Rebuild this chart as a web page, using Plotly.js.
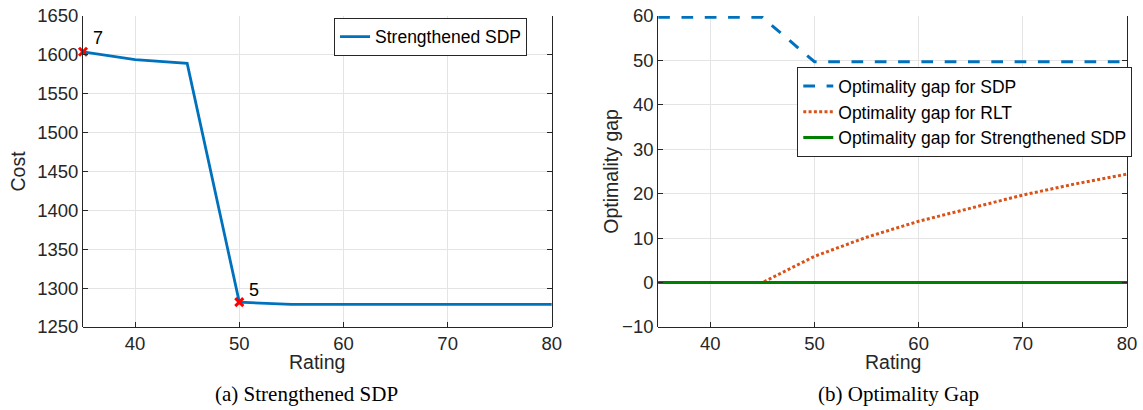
<!DOCTYPE html>
<html>
<head>
<meta charset="utf-8">
<script src="https://cdn.plot.ly/plotly-3.0.1.min.js"></script>
<style>
  html, body { margin: 0; padding: 0; background: #ffffff; }
  #chart { width: 1143px; height: 410px; }
</style>
</head>
<body>
<div id="chart"></div>
<script>
// Rating sweep shared by both panels
const rating = [35, 40, 45, 50, 55, 60, 65, 70, 75, 80];

// (a) cost of the strengthened SDP relaxation
const cost = [1604, 1594, 1589, 1282, 1279, 1279, 1279, 1279, 1279, 1279];

// points flagged with a count label
const flaggedRating = [35, 50];
const flaggedCost = [1604, 1282];
const flaggedLabels = ['7', '5'];

// (b) optimality gaps
const gapSDP = [59.7, 59.7, 59.7, 49.7, 49.7, 49.7, 49.7, 49.7, 49.7, 49.7];
const gapRLT = [0, 0, 0, 5.9, 10.2, 13.8, 16.8, 19.7, 22.2, 24.4];
const gapStrengthened = [0, 0, 0, 0, 0, 0, 0, 0, 0, 0];

const captions = ['(a) Strengthened SDP', '(b) Optimality Gap'];

// page geometry (pixels)
const W = 1143, H = 410;
const M = { l: 82.8, r: 14.7, t: 16, b: 82.5 };
const PW = W - M.l - M.r, PH = H - M.t - M.b;
const px = x => (x - M.l) / PW;          // page x -> paper x
const py = y => (H - M.b - y) / PH;      // page y -> paper y

const INK = '#262626';
const SANS = 'Liberation Sans, Arial, Helvetica, sans-serif';
const SERIF = 'Liberation Serif, Times New Roman, serif';

const traces = [
  {
    x: rating, y: cost, xaxis: 'x', yaxis: 'y',
    type: 'scatter', mode: 'lines', name: 'Strengthened SDP',
    line: { color: '#0072BD', width: 2.8 },
    legend: 'legend', cliponaxis: false
  },
  {
    x: flaggedRating, y: flaggedCost, xaxis: 'x', yaxis: 'y',
    type: 'scatter', mode: 'markers', showlegend: false,
    marker: { symbol: 'x-thin', size: 8, color: '#ff0000', line: { color: '#ff0000', width: 3 } },
    cliponaxis: false, hoverinfo: 'skip'
  },
  {
    x: rating, y: gapSDP, xaxis: 'x2', yaxis: 'y2',
    type: 'scatter', mode: 'lines', name: 'Optimality gap for SDP',
    line: { color: '#0072BD', width: 3, dash: '11.7px,11.6px' },
    legend: 'legend2', cliponaxis: false
  },
  {
    x: rating, y: gapRLT, xaxis: 'x2', yaxis: 'y2',
    type: 'scatter', mode: 'lines', name: 'Optimality gap for RLT',
    line: { color: '#D95319', width: 3, dash: '3px,2.3px' },
    legend: 'legend2'
  },
  {
    x: rating, y: gapStrengthened, xaxis: 'x2', yaxis: 'y2',
    type: 'scatter', mode: 'lines', name: 'Optimality gap for Strengthened SDP',
    line: { color: '#008000', width: 3 },
    legend: 'legend2', cliponaxis: false
  }
];

const axisBase = {
  showline: true, linecolor: INK, linewidth: 1, mirror: 'ticks',
  ticks: 'inside', ticklen: 5, tickwidth: 1, tickcolor: INK,
  showgrid: true, gridcolor: '#e4e4e4', gridwidth: 1,
  zeroline: false,
  tickfont: { family: SANS, size: 18.5, color: INK }
};

const xBase = Object.assign({}, axisBase, {
  range: [35, 80], tick0: 40, dtick: 10, anchor: 'free'
});

const annotations = [
  // flagged point labels
  ...flaggedLabels.map((t, i) => ({
    x: flaggedRating[i], y: flaggedCost[i], xref: 'x', yref: 'y',
    text: t, showarrow: false, xanchor: 'left', yanchor: 'bottom',
    xshift: 8, yshift: i === 0 ? 2 : 0,
    font: { family: SANS, size: 18, color: '#000000' }
  })),
  // axis titles
  { x: px(317.5), y: py(363), xref: 'paper', yref: 'paper', text: 'Rating',
    showarrow: false, xanchor: 'center', yanchor: 'middle',
    font: { family: SANS, size: 19.5, color: INK } },
  { x: px(893.5), y: py(363), xref: 'paper', yref: 'paper', text: 'Rating',
    showarrow: false, xanchor: 'center', yanchor: 'middle',
    font: { family: SANS, size: 19.5, color: INK } },
  { x: px(18), y: py(171.5), xref: 'paper', yref: 'paper', text: 'Cost',
    showarrow: false, textangle: -90, xanchor: 'center', yanchor: 'middle',
    font: { family: SANS, size: 19.5, color: INK } },
  { x: px(612), y: py(171.5), xref: 'paper', yref: 'paper', text: 'Optimality gap',
    showarrow: false, textangle: -90, xanchor: 'center', yanchor: 'middle',
    font: { family: SANS, size: 19.5, color: INK } },
  // panel captions
  { x: px(306.7), y: py(395), xref: 'paper', yref: 'paper', text: captions[0],
    showarrow: false, xanchor: 'center', yanchor: 'middle',
    font: { family: SERIF, size: 21, color: '#000000' } },
  { x: px(899), y: py(395), xref: 'paper', yref: 'paper', text: captions[1],
    showarrow: false, xanchor: 'center', yanchor: 'middle',
    font: { family: SERIF, size: 21, color: '#000000' } }
];

const layout = {
  width: W, height: H,
  margin: M,
  paper_bgcolor: '#ffffff', plot_bgcolor: '#ffffff',
  showlegend: true,
  xaxis: Object.assign({}, xBase, { domain: [0, px(552.3)], position: 0 }),
  yaxis: Object.assign({}, axisBase, { range: [1250, 1650], dtick: 50, anchor: 'x' }),
  xaxis2: Object.assign({}, xBase, { domain: [px(658.8), 1], position: 0 }),
  yaxis2: Object.assign({}, axisBase, { range: [-10, 60], dtick: 10, anchor: 'x2' }),
  legend: {
    x: px(430.5), y: py(36.7), xanchor: 'center', yanchor: 'middle',
    bgcolor: '#ffffff', bordercolor: INK, borderwidth: 1,
    font: { family: SANS, size: 17.5, color: '#000000' },
    itemwidth: 30
  },
  legend2: {
    x: px(965), y: py(112.3), xanchor: 'center', yanchor: 'middle',
    bgcolor: '#ffffff', bordercolor: INK, borderwidth: 1,
    font: { family: SANS, size: 17.5, color: '#000000' },
    itemwidth: 30, tracegroupgap: 0
  },
  annotations: annotations
};

Plotly.newPlot('chart', traces, layout, { staticPlot: true, displayModeBar: false });
</script>
</body>
</html>
